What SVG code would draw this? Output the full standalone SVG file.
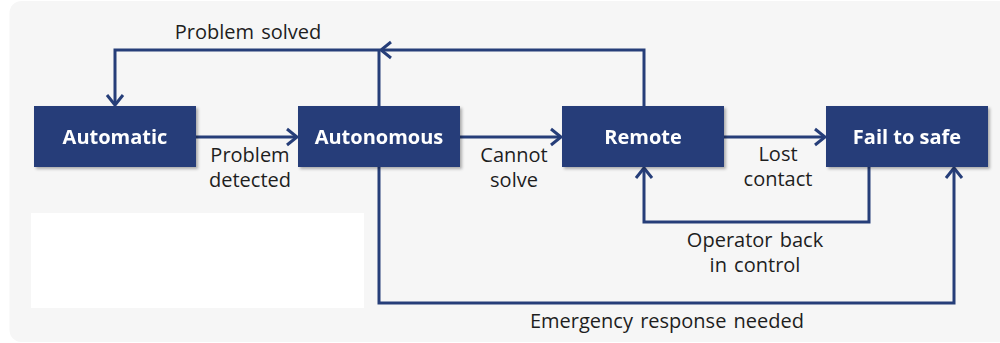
<svg xmlns="http://www.w3.org/2000/svg" width="1000" height="343" viewBox="0 0 1000 343">
  <defs>
    <style>
      .node { fill: #263e79; }
      .node-label { font-family: "Open Sans", "Noto Sans", sans-serif; font-weight: bold; font-size: 20px; fill: #ffffff; text-anchor: middle; }
      .edge { fill: none; stroke: #263e79; stroke-width: 3; }
      .edge-label { font-family: "Open Sans", "Noto Sans", sans-serif; font-size: 20px; word-spacing: 2px; fill: #1e1e1e; text-anchor: middle; }
    </style>
    <marker id="chevron" markerUnits="userSpaceOnUse" markerWidth="16" markerHeight="20" viewBox="0 0 16 20" refX="13" refY="10" orient="auto">
      <path d="M3,2 L13,10 L3,18" fill="none" stroke="#263e79" stroke-width="3" stroke-linejoin="miter"/>
    </marker>
    <filter id="shadow" x="-10%" y="-10%" width="130%" height="140%">
      <feDropShadow dx="2" dy="2" stdDeviation="1.5" flood-color="#000000" flood-opacity="0.3"/>
    </filter>
  </defs>

  <!-- page -->
  <rect x="0" y="0" width="1000" height="343" fill="#ffffff"/>
  <rect x="9.5" y="1" width="1010" height="341" rx="12" fill="#f6f6f6"/>
  <rect x="31" y="213" width="333" height="95" fill="#ffffff"/>

  <!-- connectors -->
  <g id="connectors">
    <path class="edge" d="M644,106 V50 H381" marker-end="url(#chevron)"/>
    <path class="edge" d="M379,106 V50 H115 V105" marker-end="url(#chevron)"/>
    <path class="edge" d="M196,137 H297" marker-end="url(#chevron)"/>
    <path class="edge" d="M460,137 H561" marker-end="url(#chevron)"/>
    <path class="edge" d="M724,137 H825" marker-end="url(#chevron)"/>
    <path class="edge" d="M869,167 V222 H644 V168" marker-end="url(#chevron)"/>
    <path class="edge" d="M379,167 V303 H954 V168" marker-end="url(#chevron)"/>

    <text class="edge-label" x="248" y="39">Problem solved</text>
    <text class="edge-label" x="250" y="162">Problem</text>
    <text class="edge-label" x="250" y="187">detected</text>
    <text class="edge-label" x="514" y="162">Cannot</text>
    <text class="edge-label" x="514" y="187">solve</text>
    <text class="edge-label" x="778" y="161">Lost</text>
    <text class="edge-label" x="778" y="186">contact</text>
    <text class="edge-label" x="755" y="247">Operator back</text>
    <text class="edge-label" x="755" y="272">in control</text>
    <text class="edge-label" x="667" y="328">Emergency response needed</text>
  </g>

  <!-- states -->
  <g id="automatic" filter="url(#shadow)">
    <rect class="node" x="34" y="106" width="162" height="61"/>
    <text class="node-label" x="115" y="144">Automatic</text>
  </g>
  <g id="autonomous" filter="url(#shadow)">
    <rect class="node" x="298" y="106" width="162" height="61"/>
    <text class="node-label" x="379" y="144">Autonomous</text>
  </g>
  <g id="remote" filter="url(#shadow)">
    <rect class="node" x="562" y="106" width="162" height="61"/>
    <text class="node-label" x="643" y="144">Remote</text>
  </g>
  <g id="fail-to-safe" filter="url(#shadow)">
    <rect class="node" x="826" y="106" width="162" height="61"/>
    <text class="node-label" x="907" y="144">Fail to safe</text>
  </g>
</svg>
